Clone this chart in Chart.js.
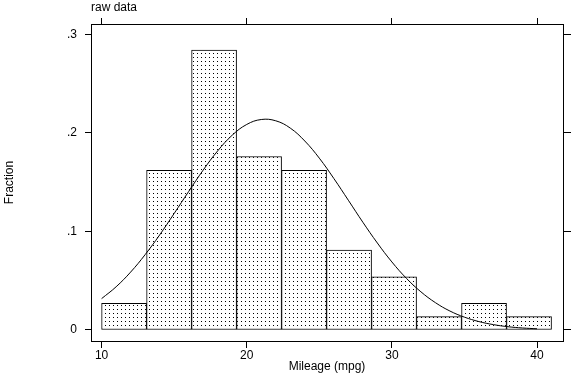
<!DOCTYPE html>
<html>
<head>
<meta charset="utf-8">
<script src="https://cdn.jsdelivr.net/npm/chart.js@4.4.1/dist/chart.umd.min.js"></script>
<style>
  body { margin: 0; background: #fff; }
  canvas { display: block; }
</style>
</head>
<body>
<canvas id="chart" width="576" height="384"></canvas>
<script>
// histogram bins (mpg)
const binStart = [10, 13.1, 16.2, 19.3, 22.4, 25.5, 28.6, 31.7, 34.8, 37.9]
const binWidth = 3.1
const fraction = [0.027, 0.162, 0.284, 0.176, 0.162, 0.081, 0.054, 0.0135, 0.027, 0.0135]

// overlaid normal curve
const curveX = [10, 11, 12, 13, 14, 15, 16, 17, 18, 19, 20, 21, 22, 23, 24, 25,
  26, 27, 28, 29, 30, 31, 32, 33, 34, 35, 36, 37, 38, 39, 40]
const curveY = [0.0318, 0.0438, 0.0587, 0.0764, 0.0964, 0.1182, 0.1405, 0.1622,
  0.1817, 0.1976, 0.2085, 0.2135, 0.2122, 0.2048, 0.1917, 0.1743, 0.1537, 0.1316,
  0.1093, 0.0882, 0.0690, 0.0524, 0.0387, 0.0277, 0.0192, 0.0130, 0.0085, 0.0054,
  0.0033, 0.0020, 0.0012]

const xTicks = [10, 20, 30, 40]
const yTicks = [0, 0.1, 0.2, 0.3]
const xRange = [9.27, 41.79]
const yRange = [-0.0112, 0.3104]

// dotted fill like the old stata shading
function dotPattern() {
  const c = document.createElement('canvas')
  c.width = 4
  c.height = 4
  const g = c.getContext('2d')
  g.fillStyle = '#fff'
  g.fillRect(0, 0, 4, 4)
  g.fillStyle = '#000'
  g.fillRect(1, 1, 1, 1)
  return g.createPattern(c, 'repeat')
}

Chart.defaults.font.family = "'Liberation Sans', Arial, sans-serif"
Chart.defaults.font.size = 12
Chart.defaults.color = '#000'

const fixTicks = vals => scale => { scale.ticks = vals.map(v => ({ value: v })) }
const fixSize = (key, px) => scale => { scale[key] = px }

function axis(extra, tickLength) {
  return Object.assign({
    type: 'linear',
    offset: false,
    grid: { drawOnChartArea: false, drawTicks: true, offset: false, tickLength: tickLength, color: '#000' },
    border: { display: true, color: '#000', width: 1 }
  }, extra)
}

new Chart(document.getElementById('chart'), {
  type: 'bar',
  data: {
    datasets: [
      {
        type: 'line',
        data: curveX.map((x, i) => ({ x: x, y: curveY[i] })),
        borderColor: '#000',
        borderWidth: 1,
        pointRadius: 0,
        tension: 0.4,
        fill: false,
        xAxisID: 'x',
        yAxisID: 'y'
      },
      {
        type: 'bar',
        data: binStart.map((b, i) => ({ x: b + binWidth / 2, y: fraction[i] })),
        backgroundColor: dotPattern(),
        borderColor: '#000',
        borderWidth: 1,
        borderSkipped: false,
        categoryPercentage: 1,
        barPercentage: 1,
        xAxisID: 'x',
        yAxisID: 'y'
      }
    ]
  },
  options: {
    responsive: false,
    animation: false,
    layout: { padding: 0 },
    plugins: { legend: { display: false }, tooltip: { enabled: false } },
    scales: {
      x: axis({
        position: 'bottom',
        min: xRange[0], max: xRange[1],
        ticks: { padding: 0, maxRotation: 0 },
        title: { display: true, text: 'Mileage (mpg)', padding: { top: 0, bottom: 10 } },
        afterBuildTicks: fixTicks(xTicks),
        afterFit: fixSize('height', 43)
      }, 7),
      x2: axis({
        position: 'top',
        min: xRange[0], max: xRange[1],
        ticks: { display: false },
        title: { display: true, text: 'raw data', align: 'start', padding: 0 },
        afterBuildTicks: fixTicks(xTicks),
        afterFit: fixSize('height', 24)
      }, 6),
      y: axis({
        position: 'left',
        min: yRange[0], max: yRange[1],
        ticks: {
          padding: 8,
          callback: v => v === 0 ? '0' : String(v).replace('0.', '.')
        },
        title: { display: true, text: 'Fraction', padding: { top: 2.5, bottom: 0 } },
        afterBuildTicks: fixTicks(yTicks),
        afterFit: fixSize('width', 91)
      }, 6),
      y2: axis({
        position: 'right',
        min: yRange[0], max: yRange[1],
        ticks: { display: false },
        afterBuildTicks: fixTicks(yTicks),
        afterFit: fixSize('width', 13)
      }, 8)
    }
  }
})
</script>
</body>
</html>
